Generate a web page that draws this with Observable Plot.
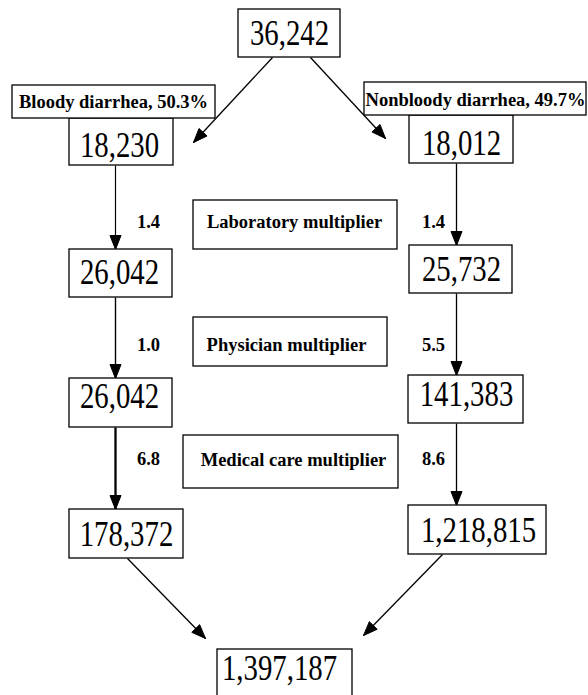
<!DOCTYPE html>
<html>
<head>
<meta charset="utf-8">
<script src="https://cdn.jsdelivr.net/npm/d3@7"></script>
<script src="https://cdn.jsdelivr.net/npm/@observablehq/plot@0.6"></script>
<style>
  html, body { margin: 0; padding: 0; background: #fff; }
  #chart { width: 588px; height: 695px; overflow: hidden; }
</style>
</head>
<body>
<div id="chart"></div>
<script>
// ---------- DATA ----------
const topValue = "36,242";
const bottomValue = "1,397,187";
const splitLabels = ["Bloody diarrhea, 50.3%", "Nonbloody diarrhea, 49.7%"];
const leftValues = ["18,230", "26,042", "26,042", "178,372"];
const rightValues = ["18,012", "25,732", "141,383", "1,218,815"];
const multiplierNames = ["Laboratory multiplier", "Physician multiplier", "Medical care multiplier"];
const leftMultipliers = ["1.4", "1.0", "6.8"];
const rightMultipliers = ["1.4", "5.5", "8.6"];

// ---------- LAYOUT (pixel frame of the diagram) ----------
const W = 588, H = 695;
const topBox = {x1: 238, x2: 340, y1: 9, y2: 57, tx: 289, ty: 33};
const bottomBox = {x1: 217, x2: 352, y1: 649, y2: 730, tx: 279, ty: 668};
const splitBoxes = [
  {x1: 12, x2: 215, y1: 85, y2: 118, tx: 113, ty: 102},
  {x1: 364, x2: 586, y1: 82, y2: 115, tx: 475, ty: 100}
];
const leftBoxes = [
  {x1: 69, x2: 173, y1: 118, y2: 165, tx: 119, ty: 145},
  {x1: 69, x2: 172, y1: 249, y2: 297, tx: 119, ty: 272},
  {x1: 69, x2: 172, y1: 378, y2: 427, tx: 119, ty: 396},
  {x1: 69, x2: 183, y1: 509, y2: 558, tx: 126, ty: 534}
];
const rightBoxes = [
  {x1: 409, x2: 513, y1: 115, y2: 163, tx: 461, ty: 143},
  {x1: 409, x2: 512, y1: 245, y2: 293, tx: 461, ty: 269},
  {x1: 408, x2: 523, y1: 375, y2: 423, tx: 466, ty: 394},
  {x1: 408, x2: 546, y1: 505, y2: 554, tx: 478, ty: 530}
];
const multBoxes = [
  {x1: 193, x2: 397, y1: 200, y2: 249, tx: 294, ty: 222},
  {x1: 193, x2: 387, y1: 317, y2: 366, tx: 286, ty: 345},
  {x1: 183, x2: 398, y1: 435, y2: 488, tx: 293, ty: 460}
];
const multLabelY = [222, 345, 459];
const leftMultX = 148, rightMultX = 433;
const leftLineX = 115, rightLineX = 456;

// ---------- TABLES BUILT FROM DATA + LAYOUT ----------
const numberNodes = [
  {...topBox, label: topValue},
  ...leftValues.map((v, i) => ({...leftBoxes[i], label: v})),
  ...rightValues.map((v, i) => ({...rightBoxes[i], label: v})),
  {...bottomBox, label: bottomValue}
];
const labelNodes = [
  ...splitLabels.map((v, i) => ({...splitBoxes[i], label: v})),
  ...multiplierNames.map((v, i) => ({...multBoxes[i], label: v}))
];
const multNumbers = [
  ...leftMultipliers.map((v, i) => ({x: leftMultX, y: multLabelY[i], label: v})),
  ...rightMultipliers.map((v, i) => ({x: rightMultX, y: multLabelY[i], label: v}))
];

const edges = [
  {x1: 272, y1: 57, x2: 193, y2: 142, w: 1.3},
  {x1: 310, y1: 57, x2: 385, y2: 138, w: 1.3},
  {x1: leftLineX, y1: leftBoxes[0].y2, x2: leftLineX, y2: leftBoxes[1].y1, w: 1.2},
  {x1: leftLineX, y1: leftBoxes[1].y2, x2: leftLineX, y2: leftBoxes[2].y1, w: 1.4},
  {x1: leftLineX, y1: leftBoxes[2].y2, x2: leftLineX, y2: leftBoxes[3].y1, w: 2.3},
  {x1: rightLineX, y1: rightBoxes[0].y2, x2: rightLineX, y2: rightBoxes[1].y1, w: 1.3},
  {x1: rightLineX, y1: rightBoxes[1].y2, x2: rightLineX, y2: rightBoxes[2].y1, w: 1.3},
  {x1: rightLineX, y1: rightBoxes[2].y2, x2: rightLineX, y2: rightBoxes[3].y1, w: 1.3},
  {x1: 127, y1: 558, x2: 205, y2: 638, w: 1.3},
  {x1: 442, y1: 554, x2: 363, y2: 635, w: 1.3}
];

// arrowhead triangles derived from each edge's end point and direction
const headLen = 14, headHalf = 5.5;
const heads = edges.flatMap((e, i) => {
  const dx = e.x2 - e.x1, dy = e.y2 - e.y1, L = Math.hypot(dx, dy);
  const ux = dx / L, uy = dy / L, px = -uy, py = ux;
  const bx = e.x2 - ux * headLen, by = e.y2 - uy * headLen;
  return [
    {id: i, x: e.x2, y: e.y2},
    {id: i, x: bx + px * headHalf, y: by + py * headHalf},
    {id: i, x: bx - px * headHalf, y: by - py * headHalf},
    {id: i, x: e.x2, y: e.y2}
  ];
});

const serif = "'Liberation Serif', 'Times New Roman', Times, serif";

const chart = Plot.plot({
  width: W,
  height: H,
  margin: 0,
  x: {domain: [0, W], range: [0, W], axis: null},
  y: {domain: [0, H], range: [0, H], axis: null},
  style: {background: "white", color: "black"},
  marks: [
    Plot.link(edges, {x1: "x1", y1: "y1", x2: "x2", y2: "y2", stroke: "black", strokeWidth: "w"}),
    Plot.line(heads, {x: "x", y: "y", z: "id", fill: "black", stroke: "black", strokeWidth: 1, curve: "linear"}),
    Plot.rect([...numberNodes, ...labelNodes], {x1: "x1", x2: "x2", y1: "y1", y2: "y2", fill: "white", stroke: "black", strokeWidth: 1.3}),
    Plot.text(numberNodes, {x: "tx", y: "ty", text: "label", fontFamily: serif, fontSize: 36, fill: "black", textAnchor: "middle", lineAnchor: "middle"}),
    Plot.text(labelNodes, {x: "tx", y: "ty", text: "label", fontFamily: serif, fontSize: 18.5, fontWeight: "bold", fill: "black", textAnchor: "middle", lineAnchor: "middle"}),
    Plot.text(multNumbers, {x: "x", y: "y", text: "label", fontFamily: serif, fontSize: 18.5, fontWeight: "bold", fill: "black", textAnchor: "middle", lineAnchor: "middle"})
  ]
});

document.getElementById("chart").appendChild(chart);

// condensed look of the large numerals (the box values)
const boxValues = new Set(numberNodes.map(d => d.label));
chart.querySelectorAll("text").forEach(t => {
  if (!boxValues.has(t.textContent.trim())) return;
  const len = t.getComputedTextLength();
  if (len > 0) {
    t.setAttribute("textLength", (len * 0.8).toFixed(1));
    t.setAttribute("lengthAdjust", "spacingAndGlyphs");
  }
});
</script>
</body>
</html>
